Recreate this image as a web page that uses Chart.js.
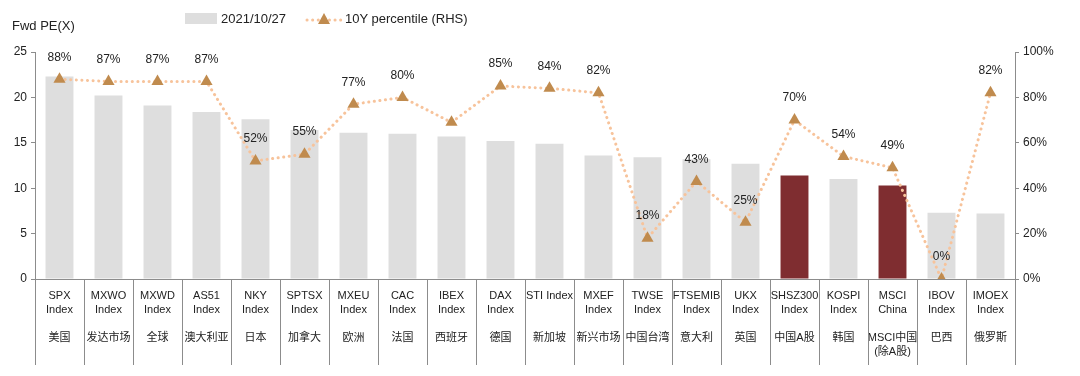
<!DOCTYPE html>
<html>
<head>
<meta charset="utf-8">
<script src="https://cdn.jsdelivr.net/npm/chart.js@4/dist/chart.umd.min.js"></script>
<style>
    body { margin: 0; background: #fff; }
    #wrap { position: relative; width: 1080px; height: 376px; font-family: 'Liberation Sans', Arial, 'Noto Sans CJK SC', sans-serif; color: #222; }
    #title { position: absolute; left: 12px; top: 18px; font-size: 13px; }
    .leg { position: absolute; top: 11px; font-size: 13px; line-height: 16px; }
    #box { position: absolute; left: 185px; top: 13px; width: 32px; height: 11px; background: #dedede; }
    #lineKey { position: absolute; left: 305px; top: 11px; }
</style>
</head>
<body>
<div id="wrap">
    <div id="title">Fwd PE(X)</div>
    <div id="box"></div>
    <div class="leg" style="left:221px">2021/10/27</div>
    <svg id="lineKey" width="38" height="16">
        <line x1="2" y1="9" x2="36" y2="9" stroke="#f7c39b" stroke-width="3" stroke-linecap="round" stroke-dasharray="0.1 5.5"/>
        <polygon points="19,2 25,13 13,13" fill="#c08b4e"/>
    </svg>
    <div class="leg" style="left:345px">10Y percentile (RHS)</div>
    <canvas id="peChart"></canvas>
</div>
<script>
// index codes, names and readings
const codes = ['SPX Index', 'MXWO Index', 'MXWD Index', 'AS51 Index', 'NKY Index', 'SPTSX Index',
    'MXEU Index', 'CAC Index', 'IBEX Index', 'DAX Index', 'STI Index', 'MXEF Index', 'TWSE Index',
    'FTSEMIB Index', 'UKX Index', 'SHSZ300 Index', 'KOSPI Index', 'MSCI China', 'IBOV Index', 'IMOEX Index'];
const names = ['美国', '发达市场', '全球', '澳大利亚', '日本', '加拿大', '欧洲', '法国', '西班牙', '德国',
    '新加坡', '新兴市场', '中国台湾', '意大利', '英国', '中国A股', '韩国', 'MSCI中国', '巴西', '俄罗斯'];
const fwdPE = [22.3, 20.2, 19.1, 18.4, 17.6, 16.4, 16.1, 16.0, 15.7, 15.2,
    14.9, 13.6, 13.4, 13.2, 12.7, 11.4, 11.0, 10.3, 7.3, 7.2];
const percentile = [88, 87, 87, 87, 52, 55, 77, 80, 69, 85, 84, 82, 18, 43, 25, 70, 54, 49, 0, 82];
const hiddenPctLabels = ['IBEX Index'];
const highlighted = ['SHSZ300 Index', 'MSCI China'];
const leftTicks = [0, 5, 10, 15, 20, 25];
const rightTicks = [0, 20, 40, 60, 80, 100];

function makeLabel(code, name) {
    const parts = code === 'STI Index' ? [code] : code.split(' ');
    const lines = parts.slice();
    while (lines.length < 3) lines.push('');
    if (code === 'MSCI China') { lines.push(name, '(除A股)'); } else { lines.push(name); }
    return lines;
}
const labels = codes.map((c, i) => makeLabel(c, names[i]));
const barColors = codes.map(c => highlighted.includes(c) ? '#7f2d30' : '#dedede');

const fontFamily = "'Liberation Sans', Arial, 'Noto Sans CJK SC', sans-serif";

const separators = {
    id: 'separators',
    afterDraw(chart) {
        const x = chart.scales.x;
        const ctx = chart.ctx;
        const half = (x.getPixelForTick(1) - x.getPixelForTick(0)) / 2;
        ctx.save();
        ctx.strokeStyle = '#8c8c8c';
        ctx.lineWidth = 1;
        ctx.beginPath();
        for (let i = 0; i <= codes.length; i++) {
            const px = Math.round((i < codes.length ? x.getPixelForTick(i) - half : x.getPixelForTick(i - 1) + half)) + 0.5;
            ctx.moveTo(px, x.top);
            ctx.lineTo(px, x.top + 86);
        }
        ctx.stroke();
        ctx.restore();
    }
};

const pctLabels = {
    id: 'pctLabels',
    afterDatasetsDraw(chart) {
        const meta = chart.getDatasetMeta(0);
        const ctx = chart.ctx;
        ctx.save();
        ctx.font = '12px ' + fontFamily;
        ctx.fillStyle = '#222';
        ctx.textAlign = 'center';
        ctx.textBaseline = 'middle';
        meta.data.forEach((pt, i) => {
            if (hiddenPctLabels.includes(codes[i])) return;
            ctx.fillText(percentile[i] + '%', pt.x, pt.y - 22);
        });
        ctx.restore();
    }
};

Chart.defaults.font.family = fontFamily;
Chart.defaults.color = '#222';

new Chart(document.getElementById('peChart'), {
    data: {
        labels: labels,
        datasets: [
            {
                type: 'line',
                label: '10Y percentile (RHS)',
                data: percentile,
                yAxisID: 'y1',
                borderColor: '#f7c39b',
                borderWidth: 3,
                borderDash: [0.1, 5.5],
                borderCapStyle: 'round',
                pointStyle: 'triangle',
                pointRadius: 7,
                pointBackgroundColor: '#c08b4e',
                pointBorderColor: '#c08b4e',
                pointBorderWidth: 0,
                tension: 0,
                order: 0
            },
            {
                type: 'bar',
                label: '2021/10/27',
                data: fwdPE,
                yAxisID: 'y',
                backgroundColor: barColors,
                barPercentage: 0.57,
                categoryPercentage: 1,
                order: 1
            }
        ]
    },
    options: {
        responsive: true,
        maintainAspectRatio: false,
        animation: false,
        layout: { padding: { top: 52, left: 0, right: 0, bottom: 0 } },
        plugins: { legend: { display: false }, tooltip: { enabled: false } },
        scales: {
            x: {
                offset: true,
                grid: { display: false },
                border: { color: '#8c8c8c' },
                ticks: { autoSkip: false, maxRotation: 0, padding: 2, font: { size: 11, lineHeight: 1.27 } },
                afterFit(scale) { scale.height = 97; }
            },
            y: {
                position: 'left',
                min: 0,
                max: 25,
                afterBuildTicks(scale) { scale.ticks = leftTicks.map(v => ({ value: v })); },
                grid: { drawOnChartArea: false, tickLength: 4, color: '#8c8c8c' },
                border: { color: '#8c8c8c' },
                ticks: { padding: 4, font: { size: 12 } },
                afterFit(scale) { scale.width = 35; }
            },
            y1: {
                position: 'right',
                min: 0,
                max: 100,
                afterBuildTicks(scale) { scale.ticks = rightTicks.map(v => ({ value: v })); },
                grid: { drawOnChartArea: false, tickLength: 4, color: '#8c8c8c' },
                border: { color: '#8c8c8c' },
                ticks: { padding: 4, font: { size: 12 }, callback: v => v + '%' },
                afterFit(scale) { scale.width = 65; }
            }
        }
    },
    plugins: [separators, pctLabels]
});
</script>
</body>
</html>
